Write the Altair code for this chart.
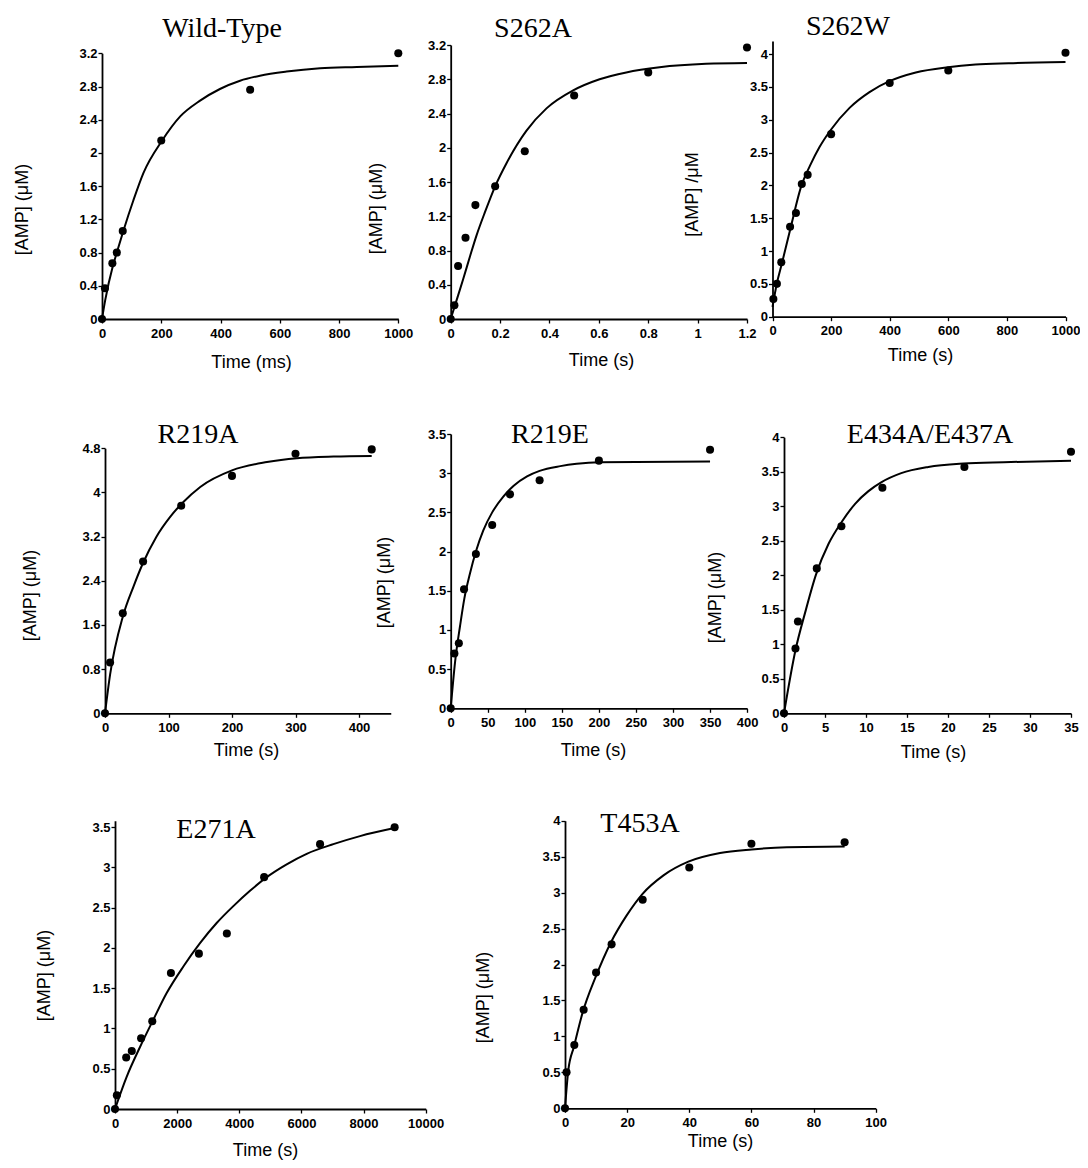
import altair as alt
import pandas as pd

# ---------------- data ----------------
WT_T = [0, 10, 35, 50, 70, 200, 500, 1000]
WT_AMP = [0, 0.37, 0.67, 0.80, 1.06, 2.15, 2.76, 3.20]
WT_FIT_T = [0, 11, 36, 50, 72, 106, 140, 203, 264, 331, 398, 466, 533, 623, 736, 860, 1000]
WT_FIT_AMP = [0, 0.23, 0.63, 0.80, 1.06, 1.43, 1.76, 2.15, 2.44, 2.63, 2.77, 2.87, 2.93, 2.98, 3.02, 3.035, 3.05]

S262A_T = [0, 0.015, 0.03, 0.06, 0.10, 0.18, 0.30, 0.50, 0.80, 1.20]
S262A_AMP = [0, 0.16, 0.62, 0.95, 1.33, 1.55, 1.96, 2.61, 2.88, 3.17]
S262A_FIT_T = [0, 0.024, 0.051, 0.078, 0.105, 0.139, 0.180, 0.226, 0.307, 0.388, 0.496, 0.603, 0.711, 0.846, 1.034, 1.2]
S262A_FIT_AMP = [0, 0.22, 0.47, 0.73, 0.98, 1.25, 1.55, 1.82, 2.20, 2.46, 2.67, 2.80, 2.88, 2.94, 2.98, 2.99]

S262W_T = [3, 15, 30, 60, 80, 100, 120, 200, 400, 600, 1000]
S262W_AMP = [0.27, 0.50, 0.83, 1.37, 1.58, 2.02, 2.16, 2.78, 3.56, 3.75, 4.02]
S262W_FIT_T = [0, 15, 32, 60, 99, 128, 160, 198, 263, 331, 401, 489, 599, 693, 806, 1000]
S262W_FIT_AMP = [0.15, 0.51, 0.81, 1.32, 2.00, 2.30, 2.58, 2.84, 3.18, 3.42, 3.59, 3.72, 3.80, 3.84, 3.86, 3.88]

R219A_T = [0, 8, 28, 60, 120, 200, 300, 420]
R219A_AMP = [0, 0.92, 1.81, 2.75, 3.76, 4.30, 4.70, 4.78]
R219A_FIT_T = [0, 8, 28, 45, 59, 81, 102, 121, 150, 200, 255, 302, 360, 420]
R219A_FIT_AMP = [0, 0.70, 1.75, 2.30, 2.70, 3.20, 3.55, 3.80, 4.10, 4.40, 4.55, 4.62, 4.65, 4.66]

R219E_T = [0, 5, 11, 18, 34, 56, 80, 120, 200, 350]
R219E_AMP = [0, 0.70, 0.83, 1.52, 1.97, 2.34, 2.73, 2.91, 3.16, 3.30]
R219E_FIT_T = [0, 6, 12.6, 18.4, 26, 34, 44, 56, 71, 85, 103, 120, 148, 170, 200, 350]
R219E_FIT_AMP = [0, 0.60, 1.05, 1.40, 1.72, 2.00, 2.27, 2.50, 2.70, 2.84, 2.96, 3.03, 3.09, 3.12, 3.14, 3.15]

E434A_T = [0, 1.4, 1.7, 4, 7, 12, 22, 35]
E434A_AMP = [0, 0.94, 1.33, 2.10, 2.71, 3.27, 3.57, 3.79]
E434A_FIT_T = [0, 1.41, 2.6, 3.9, 5.45, 7.07, 8.7, 10.3, 11.9, 14.3, 17.6, 21.9, 26.8, 35]
E434A_FIT_AMP = [0, 0.92, 1.47, 2.01, 2.46, 2.78, 3.04, 3.22, 3.35, 3.48, 3.57, 3.62, 3.64, 3.66]

E271A_T = [0, 60, 360, 540, 840, 1200, 1800, 2700, 3600, 4800, 6600, 9000]
E271A_AMP = [0, 0.17, 0.64, 0.72, 0.88, 1.09, 1.69, 1.93, 2.18, 2.88, 3.29, 3.50]
E271A_FIT_T = [0, 375, 805, 1234, 1663, 2200, 2736, 3272, 3809, 4345, 4882, 5526, 6170, 7028, 7886, 9000]
E271A_FIT_AMP = [0, 0.40, 0.77, 1.11, 1.44, 1.77, 2.06, 2.31, 2.52, 2.71, 2.88, 3.04, 3.17, 3.29, 3.39, 3.49]

T453A_T = [0, 0.5, 3, 6, 10, 15, 25, 40, 60, 90]
T453A_AMP = [0, 0.50, 0.88, 1.37, 1.89, 2.28, 2.90, 3.35, 3.68, 3.70]
T453A_FIT_T = [0, 1.07, 2.9, 5.6, 9.9, 14.8, 19.8, 24.9, 31.7, 39.7, 49.9, 60.1, 71.4, 90]
T453A_FIT_AMP = [0, 0.53, 0.86, 1.32, 1.83, 2.31, 2.68, 2.98, 3.24, 3.43, 3.55, 3.60, 3.63, 3.64]

# tick values
X_WT = [0, 200, 400, 600, 800, 1000]
X_S262A = [0, 0.2, 0.4, 0.6, 0.8, 1, 1.2]
X_S262W = [0, 200, 400, 600, 800, 1000]
X_R219A = [0, 100, 200, 300, 400]
X_R219E = [0, 50, 100, 150, 200, 250, 300, 350, 400]
X_E434A = [0, 5, 10, 15, 20, 25, 30, 35]
X_E271A = [0, 2000, 4000, 6000, 8000, 10000]
X_T453A = [0, 20, 40, 60, 80, 100]
Y_04 = [0, 0.4, 0.8, 1.2, 1.6, 2, 2.4, 2.8, 3.2]
Y_08 = [0, 0.8, 1.6, 2.4, 3.2, 4, 4.8]
Y_35 = [0, 0.5, 1, 1.5, 2, 2.5, 3, 3.5]
Y_40 = [0, 0.5, 1, 1.5, 2, 2.5, 3, 3.5, 4]

YT = "[AMP] (\u03bcM)"
YT2 = "[AMP] /\u03bcM"
XT_MS = "Time (ms)"
XT_S = "Time (s)"

SANS = "Liberation Sans"
SERIF = "Liberation Serif"

# whole drawing area (page minus the 8px margin)
W, H = 1072, 1152
M = 8  # page margin

AX = dict(grid=False, domainColor="black", domainWidth=1.8, tickColor="black",
          tickWidth=1.3, tickSize=4, labelColor="black", labelFont=SANS,
          labelFontSize=13, labelFontWeight="bold", titleFont=SANS,
          titleFontSize=18, titleFontWeight="normal", titleColor="black",
          labelFlush=False, labelOverlap=False, labelExpr="'' + datum.value")


def panel(name, t, amp, ft, famp, xdom, xvals, ydom, yvals, xtitle, ytitle, lay):
    """lay: page-pixel layout of the panel (axis positions and text anchors)."""
    ox, oy = lay["origin"][0] - M, lay["origin"][1] - M
    xe = lay["xend"] - M
    ye = lay["ytop"] - M
    pts = pd.DataFrame({"t": t, "amp": amp})
    fit = pd.DataFrame({"t": ft, "amp": famp})
    xs = alt.Scale(domain=xdom, range=[ox, xe], nice=False, zero=False)
    ys = alt.Scale(domain=ydom, range=[oy, ye], nice=False, zero=False)
    xa = alt.Axis(values=xvals, title=xtitle, orient="bottom", offset=oy - H,
                  titleX=lay["xtitle"][0] - M, titleY=lay["xtitle"][1] - lay["origin"][1],
                  titleBaseline="middle", titleAlign="center", labelPadding=4, **AX)
    ya = alt.Axis(values=yvals, title=ytitle, orient="left", offset=-ox,
                  titleX=lay["ytitle"][0] - lay["origin"][0], titleY=lay["ytitle"][1] - M,
                  titleAngle=270, titleBaseline="middle", titleAlign="center",
                  labelPadding=1, **AX)
    enc = dict(x=alt.X("t:Q", scale=xs, axis=xa), y=alt.Y("amp:Q", scale=ys, axis=ya))
    line = alt.Chart(fit).mark_line(color="black", strokeWidth=2,
                                    interpolate="monotone").encode(**enc)
    dots = alt.Chart(pts).mark_circle(color="black", size=65, opacity=1).encode(**enc)
    lab = alt.Chart(pd.DataFrame({"label": [name]})).mark_text(
        font=SERIF, fontSize=28, color="black", align="center", baseline="alphabetic"
    ).encode(x=alt.value(lay["title"][0] - M), y=alt.value(lay["title"][1] - M),
             text="label:N")
    return alt.layer(line, dots, lab)


L_WT = dict(origin=(102, 319), xend=398.3, ytop=53.3, title=(222, 37), xtitle=(251, 362), ytitle=(22.5, 209))
L_S262A = dict(origin=(450.7, 319), xend=747, ytop=45, title=(533, 37), xtitle=(601, 360), ytitle=(376, 208))
L_S262W = dict(origin=(772.5, 316.7), xend=1065.5, ytop=40.9, title=(848, 35), xtitle=(920, 355), ytitle=(692, 194))
L_R219A = dict(origin=(105, 713.3), xend=390.75, ytop=448.3, title=(198, 443), xtitle=(246, 750), ytitle=(30, 595))
L_R219E = dict(origin=(450.7, 708.3), xend=747.1, ytop=434, title=(550, 443), xtitle=(593, 750), ytitle=(384, 582))
L_E434A = dict(origin=(784, 713.3), xend=1071, ytop=437.3, title=(930, 443), xtitle=(933, 752), ytitle=(715, 597))
L_E271A = dict(origin=(115, 1109), xend=425.7, ytop=820.8, title=(216, 838), xtitle=(265, 1150), ytitle=(44, 975))
L_T453A = dict(origin=(565, 1108.3), xend=875.7, ytop=820.7, title=(640, 832), xtitle=(720, 1141), ytitle=(483, 997))

panels = [
    panel("Wild-Type", WT_T, WT_AMP, WT_FIT_T, WT_FIT_AMP, [0, 1000], X_WT, [0, 3.2], Y_04, XT_MS, YT, L_WT),
    panel("S262A", S262A_T, S262A_AMP, S262A_FIT_T, S262A_FIT_AMP, [0, 1.2], X_S262A, [0, 3.2], Y_04, XT_S, YT, L_S262A),
    panel("S262W", S262W_T, S262W_AMP, S262W_FIT_T, S262W_FIT_AMP, [0, 1000], X_S262W, [0, 4.2], Y_40, XT_S, YT2, L_S262W),
    panel("R219A", R219A_T, R219A_AMP, R219A_FIT_T, R219A_FIT_AMP, [0, 450], X_R219A, [0, 4.8], Y_08, XT_S, YT, L_R219A),
    panel("R219E", R219E_T, R219E_AMP, R219E_FIT_T, R219E_FIT_AMP, [0, 400], X_R219E, [0, 3.5], Y_35, XT_S, YT, L_R219E),
    panel("E434A/E437A", E434A_T, E434A_AMP, E434A_FIT_T, E434A_FIT_AMP, [0, 35], X_E434A, [0, 4], Y_40, XT_S, YT, L_E434A),
    panel("E271A", E271A_T, E271A_AMP, E271A_FIT_T, E271A_FIT_AMP, [0, 10000], X_E271A, [0, 3.58], Y_35, XT_S, YT, L_E271A),
    panel("T453A", T453A_T, T453A_AMP, T453A_FIT_T, T453A_FIT_AMP, [0, 100], X_T453A, [0, 4], Y_40, XT_S, YT, L_T453A),
]

chart = alt.layer(*panels).resolve_scale(
    x="independent", y="independent"
).resolve_axis(
    x="independent", y="independent"
).properties(
    width=W, height=H,
    autosize=alt.AutoSizeParams(type="none"),
    padding=0,
    background="white",
).configure_view(strokeWidth=0)

chart.save("out.html", embed_options={"renderer": "svg", "actions": False})
